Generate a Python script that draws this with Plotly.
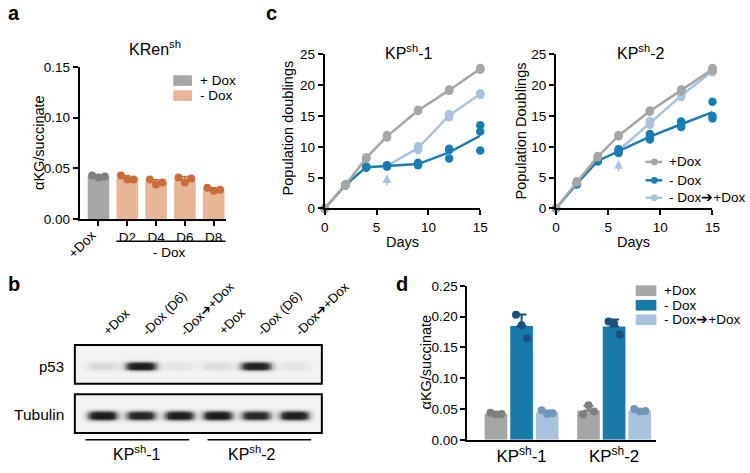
import numpy as np
import plotly.graph_objects as go

W, H = 750, 473
def px(x): return x / W
def py(y): return 1 - y / H

FONT = "Arial, 'Liberation Sans', sans-serif"

# ---------------- data ----------------
# panel a
a_categories = ["+Dox", "D2", "D4", "D6", "D8"]
a_reps = [[0.043, 0.041, 0.042],
          [0.043, 0.039, 0.039],
          [0.039, 0.034, 0.036],
          [0.041, 0.036, 0.040],
          [0.031, 0.028, 0.029]]
a_title = "KRen<sup>sh</sup>"

# panel c
days = [0, 2, 4, 6, 9, 12, 15]
days_switch = [6, 9, 12, 15]
c1_plus = [[0, 0, 0], [3.7, 3.8, 3.9], [8.1, 8.2, 8.3], [11.5, 11.9, 11.7],
           [15.8, 16.0, 15.9], [19.1, 19.3, 19.2], [22.5, 22.8, 22.7]]
c1_minus = [[0, 0, 0], [3.7, 3.8, 3.9], [6.6, 6.7, 6.8], [6.8, 7.0, 6.9],
            [7.0, 7.4, 7.2], [9.7, 9.5, 8.1], [13.5, 12.5, 9.4]]
c1_switch = [[6.8, 7.0, 6.9], [9.5, 10.1, 9.8], [14.8, 15.3, 15.2], [18.4, 18.7, 18.6]]
c2_plus = [[0, 0, 0], [4.2, 4.4, 4.3], [8.3, 8.5, 8.4], [11.7, 11.9, 11.8],
           [15.7, 15.9, 15.8], [19.0, 19.3, 19.2], [22.4, 22.8, 22.6]]
c2_minus = [[0, 0, 0], [3.9, 4.0, 4.1], [7.6, 7.8, 7.7], [9.0, 9.6, 9.3],
            [12.1, 11.7, 11.2], [14.1, 13.7, 13.2], [17.3, 15.0, 14.6]]
c2_switch = [[9.2, 9.6, 9.4], [13.6, 14.2, 13.9], [18.1, 18.5, 18.3], [22.1, 22.5, 22.3]]
c_titles = ["KP<sup>sh</sup>-1", "KP<sup>sh</sup>-2"]
c_legend = ["+Dox", "- Dox", "- Dox\u2794+Dox"]

# panel b (relative band intensities)
b_lanes = ["+Dox", "-Dox (D6)", "-Dox\u2794+Dox", "+Dox", "-Dox (D6)", "-Dox\u2794+Dox"]
b_p53 = [0.13, 0.95, 0.07, 0.11, 0.9, 0.07]
b_tubulin = [0.97, 0.88, 0.95, 0.97, 0.85, 0.94]
b_groups = ["KP<sup>sh</sup>-1", "KP<sup>sh</sup>-2"]

# panel d
d_groups = ["KP<sup>sh</sup>-1", "KP<sup>sh</sup>-2"]
d_plus = [[0.044, 0.041, 0.042], [0.041, 0.056, 0.046]]
d_minus = [[0.203, 0.186, 0.165], [0.192, 0.189, 0.171]]
d_switch = [[0.048, 0.042, 0.043], [0.050, 0.046, 0.047]]
d_legend = ["+Dox", "- Dox", "- Dox\u2794+Dox"]

# ---------------- colours ----------------
GRAY, GRAY_D = "#a6a6a6", "#7f7f7f"
ORANGE, ORANGE_D = "#e8b597", "#c96d3b"
BLUE, BLUE_D = "#1879ab", "#1d4f7c"
LBLUE, LBLUE_D = "#a9c3df", "#7196ba"
C_BLUE = "#1a7db0"

fig = go.Figure()

def mean(v): return float(np.mean(v))
def sd(v): return float(np.std(v, ddof=1))

jit = [-0.22, 0.0, 0.22]

# ---------------- panel a ----------------
for i, (cat, reps) in enumerate(zip(a_categories, a_reps)):
    bc, dc = (GRAY, GRAY_D) if i == 0 else (ORANGE, ORANGE_D)
    fig.add_trace(go.Bar(x=[i], y=[mean(reps)], width=0.75, marker=dict(color=bc, line=dict(width=0)),
                         error_y=dict(type="data", array=[sd(reps)], arrayminus=[0], symmetric=False,
                                      color=dc, thickness=1.5, width=3),
                         xaxis="x", yaxis="y", showlegend=False))
    fig.add_trace(go.Scatter(x=[i + j for j in jit], y=reps, mode="markers",
                             marker=dict(color=dc, size=8), xaxis="x", yaxis="y",
                             showlegend=False, cliponaxis=False))

# ---------------- panel c ----------------
def add_growth(xa, ya, plus, minus, switch):
    for d_arr, reps_arr, col in [(days_switch, switch, LBLUE), (days, minus, C_BLUE), (days, plus, GRAY)]:
        fig.add_trace(go.Scatter(x=d_arr, y=[mean(r) for r in reps_arr], mode="lines",
                                 line=dict(color=col, width=2.5), xaxis=xa, yaxis=ya,
                                 showlegend=False, cliponaxis=False))
        xs, ys = [], []
        for d, r in zip(d_arr, reps_arr):
            xs += [d] * len(r)
            ys += r
        fig.add_trace(go.Scatter(x=xs, y=ys, mode="markers", marker=dict(color=col, size=8.5),
                                 xaxis=xa, yaxis=ya, showlegend=False, cliponaxis=False))

add_growth("x2", "y2", c1_plus, c1_minus, c1_switch)
add_growth("x3", "y3", c2_plus, c2_minus, c2_switch)

# ---------------- panel d ----------------
d_off = [-0.277, 0.0, 0.277]
d_jit = [-0.06, 0.0, 0.06]
for k, (series, bc, dc) in enumerate([(d_plus, GRAY, GRAY_D), (d_minus, BLUE, BLUE_D),
                                      (d_switch, LBLUE, LBLUE_D)]):
    xs = [g + d_off[k] for g in range(len(d_groups))]
    fig.add_trace(go.Bar(x=xs, y=[mean(r) for r in series], width=0.245,
                         marker=dict(color=bc, line=dict(width=0)),
                         error_y=dict(type="data", array=[sd(r) for r in series],
                                      arrayminus=[0] * len(series), symmetric=False,
                                      color=dc, thickness=2, width=5),
                         xaxis="x4", yaxis="y4", showlegend=False))
    dx, dy = [], []
    for x0, r in zip(xs, series):
        dx += [x0 + j for j in d_jit]
        dy += r
    fig.add_trace(go.Scatter(x=dx, y=dy, mode="markers", marker=dict(color=dc, size=8),
                             xaxis="x4", yaxis="y4", showlegend=False, cliponaxis=False))

# ---------------- panel b (blot) ----------------
bx = np.linspace(0.28, 6.72, 300)
by = np.linspace(0, 1, 80)
XX, YY = np.meshgrid(bx, by)
def blot(intens, yc, h, w):
    z = np.zeros_like(XX)
    for i, I in enumerate(intens):
        z += I * np.exp(-np.abs((XX - (i + 1)) / w) ** 4) * np.exp(-np.abs((YY - yc) / h) ** 3)
    return np.clip(z, 0, 1)
blot_cs = [[0, "#f3f3f3"], [0.3, "#b5b5b5"], [0.7, "#3a3a3a"], [1, "#151515"]]
fig.add_trace(go.Heatmap(x=bx, y=by, z=blot(b_p53, 0.45, 0.12, 0.42), colorscale=blot_cs,
                         zmin=0, zmax=1, showscale=False, zsmooth="best", xaxis="x5", yaxis="y5",
                         hoverinfo="skip"))
fig.add_trace(go.Heatmap(x=bx, y=by, z=blot(b_tubulin, 0.45, 0.13, 0.40), colorscale=blot_cs,
                         zmin=0, zmax=1, showscale=False, zsmooth="best", xaxis="x6", yaxis="y6",
                         hoverinfo="skip"))

# ---------------- axes ----------------
def ax_style(**kw):
    d = dict(showline=True, linecolor="black", linewidth=2, ticks="outside", ticklen=5,
             tickwidth=2, tickcolor="black", showgrid=False, zeroline=False,
             tickfont=dict(family=FONT, size=13.5, color="black"))
    d.update(kw)
    return d

layout = dict(
    width=W, height=H, margin=dict(l=0, r=0, t=0, b=0),
    paper_bgcolor="white", plot_bgcolor="rgba(0,0,0,0)",
    font=dict(family=FONT, color="black"), showlegend=False, barmode="overlay",
    xaxis=ax_style(domain=[px(77), px(226)], range=[-0.65, 4.44], tickvals=list(range(5)),
                   ticktext=[""] + a_categories[1:], anchor="y"),
    yaxis=ax_style(domain=[py(219), py(62)], range=[0, 0.15], tickvals=[0, 0.05, 0.10, 0.15],
                   tickformat=".2f", anchor="x"),
    xaxis2=ax_style(domain=[px(326), px(484)], range=[0, 15], tickvals=[0, 5, 10, 15], anchor="y2"),
    yaxis2=ax_style(domain=[py(208), py(49)], range=[0, 25], tickvals=[0, 5, 10, 15, 20, 25], anchor="x2"),
    xaxis3=ax_style(domain=[px(561), px(720)], range=[0, 15], tickvals=[0, 5, 10, 15], anchor="y3"),
    yaxis3=ax_style(domain=[py(208), py(49)], range=[0, 25], tickvals=[0, 5, 10, 15, 20, 25], anchor="x3"),
    xaxis4=ax_style(domain=[px(471), px(663)], range=[-0.585, 1.457], tickvals=[0, 1],
                    ticktext=d_groups, ticks="", tickfont=dict(family=FONT, size=17, color="black"),
                    anchor="y4"),
    yaxis4=ax_style(domain=[py(447), py(288)], range=[0, 0.25],
                    tickvals=[0, 0.05, 0.10, 0.15, 0.20, 0.25], tickformat=".2f", anchor="x4"),
    xaxis5=dict(domain=[px(72), px(323)], range=[0.28, 6.72], visible=False, anchor="y5"),
    yaxis5=dict(domain=[py(389), py(349)], range=[0, 1], visible=False, anchor="x5"),
    xaxis6=dict(domain=[px(72), px(323)], range=[0.28, 6.72], visible=False, anchor="y6"),
    yaxis6=dict(domain=[py(440), py(400)], range=[0, 1], visible=False, anchor="x6"),
)
fig.update_layout(**layout)

shapes = []
ann = []
def text(x, y, t, size=13, xa="center", ya="middle", angle=0, bold=False, color="black", **kw):
    a = dict(x=x, y=y, xref="paper", yref="paper", text=f"<b>{t}</b>" if bold else t,
             showarrow=False, xanchor=xa, yanchor=ya, textangle=angle,
             font=dict(family=FONT, size=size, color=color))
    a.update(kw)
    ann.append(a)

# panel letters
text(px(2), py(6), "a", size=20, xa="left", bold=True)
text(px(2), py(286), "b", size=20, xa="left", bold=True)
text(px(264), py(6), "c", size=20, xa="left", bold=True)
text(px(396), py(286), "d", size=20, xa="left", bold=True)

# panel a texts
text(px(153), py(42), a_title, size=16)
text(px(35), py(140), "\u03b1KG/succinate", size=14.5, angle=-90)
ann.append(dict(x=0.1, y=py(225), xref="x", yref="paper", text=a_categories[0], showarrow=False,
                xanchor="right", yanchor="top", textangle=-45,
                font=dict(family=FONT, size=13.5, color="black")))
shapes.append(dict(type="line", xref="x", yref="paper", x0=0.62, x1=4.41, y0=py(242), y1=py(242),
                   line=dict(color="black", width=1.5)))
text(px(168), py(254), "- Dox", size=13.5)
# legend a
for i, (lab, col) in enumerate([("+ Dox", GRAY), ("- Dox", ORANGE)]):
    yc = 76 + 15.5 * i
    shapes.append(dict(type="rect", xref="paper", yref="paper", x0=px(172), x1=px(191),
                       y0=py(yc + 5.5), y1=py(yc - 5.5), fillcolor=col, line=dict(width=0)))
    text(px(197), py(yc), lab, size=13.5, xa="left")

# panel c texts
text(px(412), py(46), c_titles[0], size=16)
text(px(647), py(46), c_titles[1], size=16)
text(px(289), py(125), "Population doublings", size=14.5, angle=-90)
text(px(525), py(128), "Population Doublings", size=14.5, angle=-90)
text(px(405), py(243), "Days", size=14.5)
text(px(640), py(243), "Days", size=14.5)
for xa, ya, tip, tail in [("x2", "y2", 5.6, 3.5), ("x3", "y3", 7.9, 5.8)]:
    ann.append(dict(x=6, y=tip, ax=6, ay=tail, xref=xa, yref=ya, axref=xa, ayref=ya,
                    showarrow=True, arrowhead=2, arrowsize=1, arrowwidth=1.8,
                    arrowcolor=LBLUE, text=""))
# legend c
for i, (lab, col) in enumerate(zip(c_legend, [GRAY, C_BLUE, LBLUE])):
    yc = [160, 179, 197][i]
    shapes.append(dict(type="line", xref="paper", yref="paper", x0=px(652), x1=px(669),
                       y0=py(yc), y1=py(yc), line=dict(color=col, width=2.5)))
    shapes.append(dict(type="circle", xref="paper", yref="paper", x0=px(657.5), x1=px(664.5),
                       y0=py(yc + 3.5), y1=py(yc - 3.5), fillcolor=col, line=dict(width=0)))
    text(px(674), py(yc), lab, size=13.5, xa="left")

# panel b texts
text(px(63), py(371), "p53", size=15, xa="right")
text(px(63), py(421), "Tubulin", size=15.5, xa="right")
for i, lab in enumerate(b_lanes):
    ann.append(dict(x=i + 1 - 0.12, y=py(345), xref="x5", yref="paper", text=lab, showarrow=False,
                    xanchor="left", yanchor="bottom", textangle=-45,
                    font=dict(family=FONT, size=13, color="black")))
for xa, ya in [("x5", "y5"), ("x6", "y6")]:
    shapes.append(dict(type="rect", xref=f"{xa} domain", yref=f"{ya} domain", x0=0, x1=1, y0=0, y1=1,
                       line=dict(color="black", width=2), fillcolor="rgba(0,0,0,0)", layer="above"))
for g, (x0, x1, xc) in enumerate([(0.56, 3.26, 2.0), (3.74, 6.44, 5.0)]):
    shapes.append(dict(type="line", xref="x5", yref="paper", x0=x0, x1=x1, y0=py(447), y1=py(447),
                       line=dict(color="black", width=1.5)))
    ann.append(dict(x=xc - 0.1, y=py(461), xref="x5", yref="paper", text=b_groups[g], showarrow=False,
                    xanchor="center", yanchor="middle", font=dict(family=FONT, size=16, color="black")))

# panel d texts
text(px(429), py(367), "\u03b1KG/succinate", size=14.5, angle=-90)
for i, (lab, col) in enumerate(zip(d_legend, [GRAY, BLUE, LBLUE])):
    yc = [293, 308, 323][i]
    shapes.append(dict(type="rect", xref="paper", yref="paper", x0=px(642), x1=px(663),
                       y0=py(yc + 5.5), y1=py(yc - 5.5), fillcolor=col, line=dict(width=0)))
    text(px(669), py(yc), lab, size=13.5, xa="left")

fig.update_layout(shapes=shapes, annotations=ann)
fig.write_html("out.html", config={"displayModeBar": False},
               post_script="document.body.style.margin='0px';document.body.style.padding='0px';")
